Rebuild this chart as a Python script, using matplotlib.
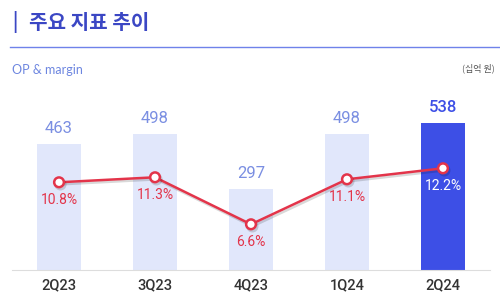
import matplotlib as mpl
mpl.use('Agg')
import matplotlib.pyplot as plt
import matplotlib.patheffects as pe

quarters = ['2Q23', '3Q23', '4Q23', '1Q24', '2Q24']
op = [463, 498, 297, 498, 538]
margin = [10.8, 11.3, 6.6, 11.1, 12.2]

plt.rcParams['font.family'] = ['Noto Sans CJK KR', 'DejaVu Sans']
num_font = ['Roboto', 'DejaVu Sans']

fig = plt.figure(figsize=(5, 3.06), dpi=100)
fig.patch.set_facecolor('white')

# header
fig.text(0.024, 0.928, '|', fontsize=13, fontweight='bold', color='#3b47c4', va='center')
fig.text(0.058, 0.928, '주요 지표 추이', fontsize=14.5, fontweight='bold', color='#3b47c4', va='center')
fig.add_artist(plt.Line2D([0.02, 1.0], [0.846, 0.846], color='#6f82ea', lw=1))
fig.text(0.024, 0.772, 'OP & margin', fontsize=9, color='#6d86e0', va='center', family=['Lato', 'DejaVu Sans'])
fig.text(0.99, 0.778, '(십억 원)', fontsize=6.5, color='#555555', va='center', ha='right')

ax = fig.add_axes([0.024, 0.1176, 0.956, 0.523])
x = range(len(quarters))
colors = ['#e1e7fb'] * 4 + ['#3d4fe6']
ax.bar(x, op, width=0.45, color=colors, zorder=1)
ax.set_xlim(-0.49, 4.49)
ax.set_ylim(0, 586.7)
ax.set_xticks(list(x))
ax.set_xticklabels(quarters, fontsize=10.5, color='#333333', family=num_font, fontweight='medium')
ax.tick_params(axis='x', length=0, pad=6)
ax.set_yticks([])
for s in ['top', 'right', 'left']:
    ax.spines[s].set_visible(False)
ax.spines['bottom'].set_color('#dddddd')

for i, v in enumerate(op):
    c = '#3d4fe6' if i == 4 else '#7b8fe2'
    ax.annotate(str(v), (i, v), xytext=(0, 11), textcoords='offset points',
                ha='center', va='center', fontsize=12, color=c,
                family=num_font, fontweight='medium' if i == 4 else 'normal')

ax2 = ax.twinx()
ax2.set_ylim(2.03, 18.03)
ax2.axis('off')
ax2.plot(list(x), margin, color='#e3344a', lw=1.8, marker='o', markersize=7,
         markerfacecolor='white', markeredgecolor='#e3344a', markeredgewidth=1.8, zorder=3,
         path_effects=[pe.SimpleLineShadow(offset=(1, -1.5), alpha=0.15), pe.Normal()])
for i, m in enumerate(margin):
    c = 'white' if i == 4 else '#e3344a'
    ax2.annotate(f'{m}%', (i, m), xytext=(0, -13), textcoords='offset points',
                 ha='center', va='center', fontsize=10, color=c, family=num_font)

plt.savefig('out.png', dpi=100)
